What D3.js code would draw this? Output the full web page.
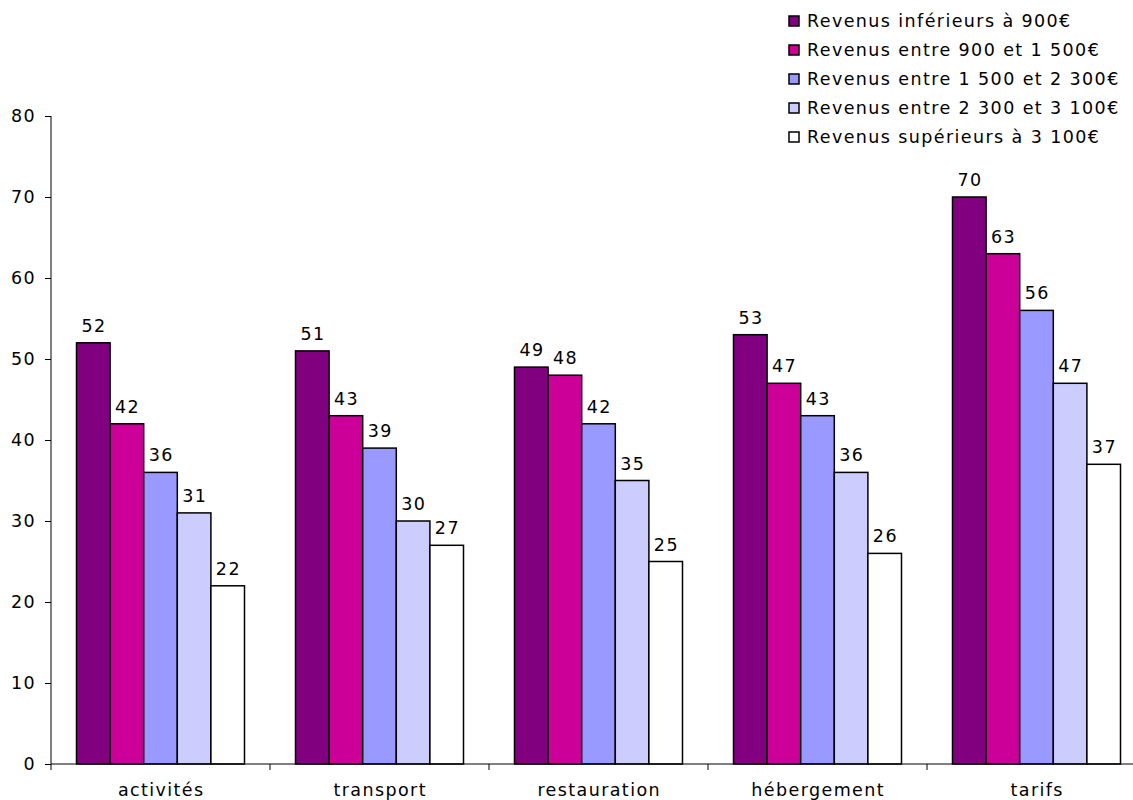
<!DOCTYPE html>
<html><head><meta charset="utf-8">
<script src="https://cdn.jsdelivr.net/npm/d3@7"></script>
<style>body{margin:0;background:#fff}svg{display:block}text{font-family:"DejaVu Sans",Verdana,sans-serif;fill:#000}</style>
</head><body>
<svg id="c" width="1133" height="800"></svg>
<script>
const categories = ["activités","transport","restauration","hébergement","tarifs"];
const seriesNames = ["Revenus inférieurs à 900€","Revenus entre 900 et 1 500€","Revenus entre 1 500 et 2 300€","Revenus entre 2 300 et 3 100€","Revenus supérieurs à 3 100€"];
const s1 = [52,51,49,53,70];
const s2 = [42,43,48,47,63];
const s3 = [36,39,42,43,56];
const s4 = [31,30,35,36,47];
const s5 = [22,27,25,26,37];
const series = [s1,s2,s3,s4,s5];
const colors = ["#800080","#CC0099","#9999FF","#CCCCFF","#FFFFFF"];
const yTicks = [0,10,20,30,40,50,60,70,80];

const svg = d3.select("#c");
const x0 = d3.scaleBand().domain(categories).range([51,1146]).paddingInner(0).paddingOuter(0);
const x1 = d3.scaleBand().domain(d3.range(5)).range([25.5, x0.bandwidth()-25.5]).padding(0);
const y = d3.scaleLinear().domain([0,80]).range([764,116]);
const fs = 17.5, ls = 1.4;

function styleText(sel){ sel.style("font-size",fs+"px").style("letter-spacing",ls+"px").style("font-family","DejaVu Sans, Verdana, sans-serif"); }

// y axis
const ya = svg.append("g").attr("transform","translate(51,0)")
  .call(d3.axisLeft(y).tickValues(yTicks).tickSize(6).tickPadding(9));
ya.selectAll("text").call(styleText);
ya.select(".domain").attr("d","M0,116V764");

// bars
const g = svg.append("g");
categories.forEach((c,ci)=>{
  series.forEach((s,si)=>{
    const xx = x0(c)+x1(si);
    g.append("rect").attr("x",xx).attr("y",y(s[ci])).attr("width",x1.bandwidth()).attr("height",y(0)-y(s[ci]))
      .attr("fill",colors[si]).attr("stroke","#000").attr("stroke-width",1.5);
    g.append("text").attr("x",xx+x1.bandwidth()/2+ls/2).attr("y",y(s[ci])-11).attr("text-anchor","middle")
      .call(styleText).text(s[ci]);
  });
});

// x axis
const xa = svg.append("g").attr("transform","translate(0,764)");
xa.append("line").attr("x1",51).attr("x2",1133).attr("stroke","#000");
x0.domain().forEach((c,i)=>{
  const bx = x0(c);
  xa.append("line").attr("x1",bx).attr("x2",bx).attr("y1",0).attr("y2",6).attr("stroke","#000");
  xa.append("text").attr("x",bx+x0.bandwidth()/2+ls/2).attr("y",32).attr("text-anchor","middle").call(styleText).text(c);
});

// legend
const lg = svg.append("g");
seriesNames.forEach((n,i)=>{
  const yy = 21 + i*29;
  lg.append("rect").attr("x",789).attr("y",yy-5).attr("width",10).attr("height",10).attr("fill",colors[i]).attr("stroke","#000").attr("stroke-width",1.5);
  lg.append("text").attr("x",807).attr("y",yy+6).call(styleText).text(n);
});
</script>
</body></html>
